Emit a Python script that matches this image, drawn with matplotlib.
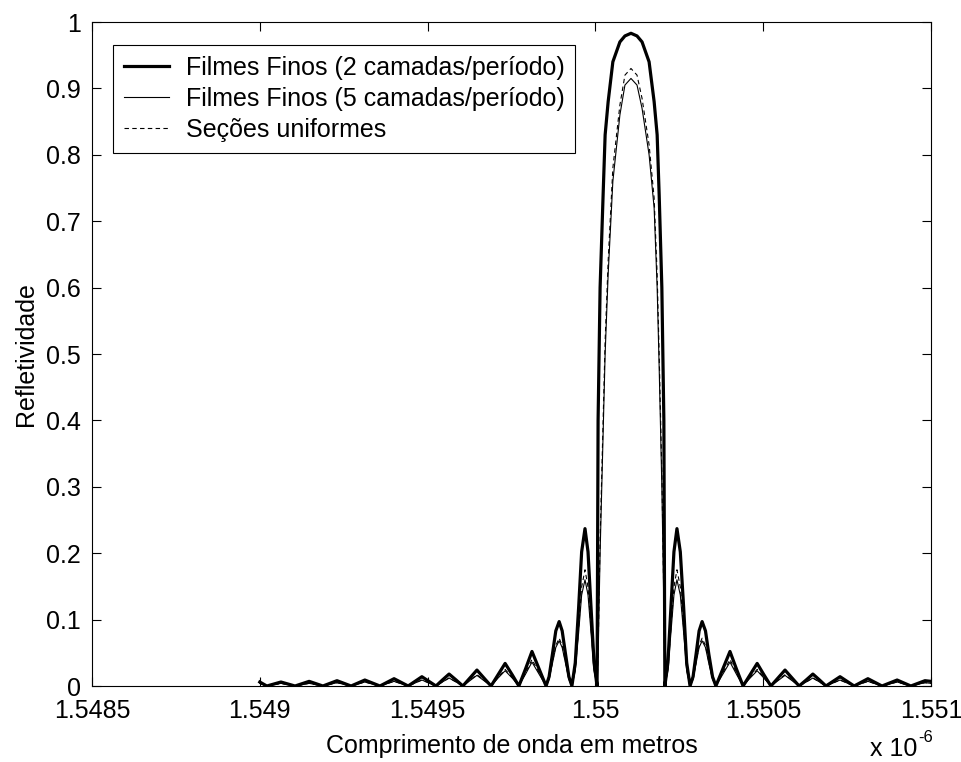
import matplotlib
matplotlib.use("Agg")
import matplotlib.pyplot as plt
from matplotlib.ticker import FixedLocator, FuncFormatter

# wavelength grid in micrometres (axis shows x 10^-6 m)
wavelength_um = [
    1.549000, 1.549021, 1.549063, 1.549105, 1.549147, 1.549188, 1.549230,
    1.549272, 1.549313, 1.549358, 1.549400, 1.549442, 1.549483, 1.549525,
    1.549544, 1.549564, 1.549585, 1.549605, 1.549626, 1.549647, 1.549668,
    1.549689, 1.549710, 1.549731, 1.549752, 1.549772, 1.549792, 1.549811,
    1.549832, 1.549853, 1.549862, 1.549872, 1.549882, 1.549892, 1.549901,
    1.549911, 1.549921, 1.549930, 1.549940, 1.549950, 1.549959, 1.549969,
    1.549978, 1.549987, 1.549996, 1.550005, 1.550008, 1.550014, 1.550023,
    1.550029, 1.550038, 1.550052, 1.550073, 1.550088, 1.550106, 1.550124,
    1.550139, 1.550160, 1.550175, 1.550184, 1.550190, 1.550198, 1.550204,
    1.550207, 1.550216, 1.550225, 1.550234, 1.550243, 1.550253, 1.550263,
    1.550272, 1.550282, 1.550291, 1.550300, 1.550309, 1.550318, 1.550328,
    1.550338, 1.550349, 1.550359, 1.550380, 1.550401, 1.550420, 1.550440,
    1.550461, 1.550482, 1.550502, 1.550523, 1.550544, 1.550565, 1.550586,
    1.550607, 1.550628, 1.550648, 1.550668, 1.550687, 1.550729, 1.550771,
    1.550812, 1.550854, 1.550899, 1.550940, 1.550982, 1.551000,
]

refl_2_layers = [
    0.006, 0.0, 0.006, 0.0, 0.007, 0.0, 0.008,
    0.0, 0.009, 0.0, 0.011, 0.0, 0.014, 0.0,
    0.009, 0.018, 0.009, 0.0, 0.012, 0.024, 0.012,
    0.0, 0.017, 0.034, 0.017, 0.0, 0.026, 0.052,
    0.026, 0.0, 0.014, 0.048, 0.083, 0.097, 0.083,
    0.048, 0.014, 0.0, 0.035, 0.118, 0.202, 0.237,
    0.202, 0.118, 0.035, 0.0, 0.40, 0.60, 0.74,
    0.83, 0.88, 0.94, 0.97, 0.979, 0.983, 0.979,
    0.97, 0.94, 0.88, 0.83, 0.74, 0.60, 0.40,
    0.0, 0.035, 0.118, 0.202, 0.237, 0.202, 0.118,
    0.035, 0.0, 0.014, 0.048, 0.083, 0.097, 0.083,
    0.048, 0.014, 0.0, 0.026, 0.052, 0.026, 0.0,
    0.017, 0.034, 0.017, 0.0, 0.012, 0.024, 0.012,
    0.0, 0.009, 0.018, 0.009, 0.0, 0.014, 0.0,
    0.011, 0.0, 0.009, 0.0, 0.008, 0.007,
]

refl_5_layers = [
    0.004, 0.0, 0.004, 0.0, 0.004, 0.0, 0.005,
    0.0, 0.006, 0.0, 0.007, 0.0, 0.009, 0.0,
    0.006, 0.012, 0.006, 0.0, 0.008, 0.016, 0.008,
    0.0, 0.012, 0.023, 0.012, 0.0, 0.018, 0.036,
    0.018, 0.0, 0.010, 0.034, 0.058, 0.068, 0.058,
    0.034, 0.010, 0.0, 0.023, 0.080, 0.137, 0.160,
    0.137, 0.080, 0.023, 0.0, 0.04, 0.20, 0.38,
    0.50, 0.62, 0.76, 0.86, 0.905, 0.915, 0.905,
    0.87, 0.80, 0.72, 0.60, 0.48, 0.30, 0.12,
    0.0, 0.023, 0.080, 0.137, 0.160, 0.137, 0.080,
    0.023, 0.0, 0.010, 0.034, 0.058, 0.068, 0.058,
    0.034, 0.010, 0.0, 0.018, 0.036, 0.018, 0.0,
    0.012, 0.023, 0.012, 0.0, 0.008, 0.016, 0.008,
    0.0, 0.006, 0.012, 0.006, 0.0, 0.009, 0.0,
    0.007, 0.0, 0.006, 0.0, 0.005, 0.004,
]

refl_uniform = [
    0.004, 0.0, 0.004, 0.0, 0.004, 0.0, 0.005,
    0.0, 0.006, 0.0, 0.007, 0.0, 0.009, 0.0,
    0.006, 0.012, 0.006, 0.0, 0.009, 0.017, 0.009,
    0.0, 0.013, 0.025, 0.013, 0.0, 0.020, 0.040,
    0.020, 0.0, 0.011, 0.036, 0.061, 0.072, 0.061,
    0.036, 0.011, 0.0, 0.026, 0.087, 0.149, 0.175,
    0.149, 0.087, 0.026, 0.0, 0.05, 0.22, 0.40,
    0.52, 0.64, 0.78, 0.875, 0.92, 0.93, 0.92,
    0.885, 0.815, 0.735, 0.62, 0.50, 0.32, 0.13,
    0.0, 0.026, 0.087, 0.149, 0.175, 0.149, 0.087,
    0.026, 0.0, 0.011, 0.036, 0.061, 0.072, 0.061,
    0.036, 0.011, 0.0, 0.020, 0.040, 0.020, 0.0,
    0.013, 0.025, 0.013, 0.0, 0.009, 0.017, 0.009,
    0.0, 0.006, 0.012, 0.006, 0.0, 0.009, 0.0,
    0.007, 0.0, 0.006, 0.0, 0.005, 0.004,
]

series_labels = [
    "Filmes Finos (2 camadas/período)",
    "Filmes Finos (5 camadas/período)",
    "Seções uniformes",
]

x_ticks = [1.5485, 1.549, 1.5495, 1.55, 1.5505, 1.551]
y_ticks = [0, 0.1, 0.2, 0.3, 0.4, 0.5, 0.6, 0.7, 0.8, 0.9, 1.0]

plt.rcParams["font.family"] = ["Liberation Sans", "DejaVu Sans"]
FS = 18

fig = plt.figure(figsize=(9.62, 7.62), dpi=100)
ax = fig.add_axes([92 / 962, 76 / 762, 839 / 962, 664 / 762])

ax.plot(wavelength_um, refl_2_layers, color="black", linewidth=2.3, label=series_labels[0])
ax.plot(wavelength_um, refl_5_layers, color="black", linewidth=0.8, label=series_labels[1])
ax.plot(wavelength_um, refl_uniform, color="black", linewidth=0.8,
        linestyle=(0, (4, 3)), label=series_labels[2])

ax.set_xlim(1.5485, 1.551)
ax.set_ylim(0, 1)
ax.xaxis.set_major_locator(FixedLocator(x_ticks))
ax.yaxis.set_major_locator(FixedLocator(y_ticks))
ax.xaxis.set_major_formatter(FuncFormatter(lambda v, p: f"{v:g}"))
ax.yaxis.set_major_formatter(FuncFormatter(lambda v, p: f"{v:g}"))
ax.tick_params(direction="in", length=6.5, width=0.8, top=True, right=True,
               labelsize=FS, colors="black")
ax.tick_params(axis="x", pad=9)
ax.tick_params(axis="y", pad=8)
for s in ax.spines.values():
    s.set_linewidth(0.8)

ax.set_xlabel("Comprimento de onda em metros", fontsize=FS, labelpad=8)
ax.set_ylabel("Refletividade", fontsize=FS, labelpad=6)

leg = ax.legend(loc="upper left", bbox_to_anchor=(21 / 839, 641 / 664),
                borderaxespad=0, fontsize=FS, fancybox=False, framealpha=1,
                edgecolor="black", handlelength=1.8, handletextpad=0.7,
                borderpad=0.42, labelspacing=0.29)
leg.get_frame().set_linewidth(0.8)

fig.text(870 / 962, 6 / 762, "x 10", fontsize=FS, ha="left", va="baseline")
fig.text(918 / 962, 20 / 762, "-6", fontsize=12, ha="left", va="baseline")

fig.savefig("out.png", dpi=100)
